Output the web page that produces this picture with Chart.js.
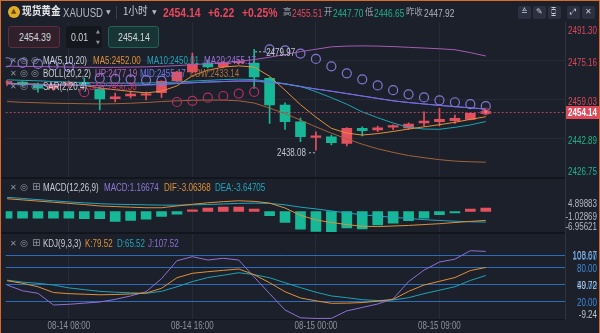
<!DOCTYPE html>
<html><head><meta charset="utf-8">
<script src="https://cdn.jsdelivr.net/npm/chart.js@4/dist/chart.umd.min.js"></script>
<style>
html,body{margin:0;padding:0;background:#1c202b;width:600px;height:333px;overflow:hidden;}
#wrap{position:relative;width:600px;height:333px;}
#frame{position:absolute;left:0;top:0;width:600px;height:333px;box-sizing:border-box;border-top:1px solid #d86a2c;border-left:1px solid #d86a2c;border-right:1px solid #d86a2c;pointer-events:none;}
canvas{position:absolute;left:0;top:0;}
.t{position:absolute;white-space:nowrap;font-family:"Liberation Sans",Arial,sans-serif;line-height:1;transform:scaleX(0.8);transform-origin:0 50%;}
.cn{font-family:"Noto Sans CJK SC",sans-serif;transform:scaleX(0.88);}
.ic{position:absolute;font-family:"DejaVu Sans",sans-serif;color:#8d93a0;font-size:8px;line-height:1;white-space:nowrap;}
.box{position:absolute;box-sizing:border-box;border-radius:3px;}
.btn{position:absolute;top:6px;width:13px;height:13px;background:#2b3140;border-radius:2px;}
</style></head>
<body><div id="wrap">
<canvas id="c" width="600" height="333"></canvas>

<!-- header -->
<div class="box" style="left:8px;top:6px;width:12px;height:12px;border-radius:6px;background:#e2ad2a;"></div>
<div class="ic" style="left:11px;top:8px;font-size:7px;color:#6a4a08;">▲</div>
<div class="t cn" style="left:22px;top:5px;font-size:11px;color:#e6e7ea;font-weight:bold;">现货黄金</div>
<div class="t" style="left:63px;top:7px;font-size:12px;color:#b5b9c3;">XAUUSD</div>
<div class="ic" style="left:106px;top:9px;font-size:6px;color:#b5b9c3;">▼</div>
<div class="box" style="left:116px;top:6px;width:1px;height:13px;background:#3a3f4c;border-radius:0;"></div>
<div class="t cn" style="left:123px;top:5px;font-size:11px;color:#c8ccd4;">1小时</div>
<div class="ic" style="left:152px;top:9px;font-size:6px;color:#b5b9c3;">▼</div>
<div class="t" style="left:163px;top:6px;font-size:13px;color:#e8485a;font-weight:bold;">2454.14</div>
<div class="t" style="left:208px;top:6px;font-size:13px;color:#e8485a;font-weight:bold;">+6.22</div>
<div class="t" style="left:242px;top:6px;font-size:13px;color:#e8485a;font-weight:bold;">+0.25%</div>
<div class="t cn" style="left:283px;top:7px;font-size:9.5px;color:#9aa0aa;">高</div>
<div class="t" style="left:292px;top:7.5px;font-size:10.5px;color:#e8485a;">2455.51</div>
<div class="t cn" style="left:324px;top:7px;font-size:9.5px;color:#9aa0aa;">开</div>
<div class="t" style="left:333px;top:7.5px;font-size:10.5px;color:#1fb38a;">2447.70</div>
<div class="t cn" style="left:365px;top:7px;font-size:9.5px;color:#9aa0aa;">低</div>
<div class="t" style="left:374px;top:7.5px;font-size:10.5px;color:#1fb38a;">2446.65</div>
<div class="t cn" style="left:406px;top:7px;font-size:9.5px;color:#9aa0aa;">昨收</div>
<div class="t" style="left:424px;top:7.5px;font-size:10.5px;color:#b0b4bc;">2447.92</div>
<div class="btn" style="left:518px;"></div>
<div class="btn" style="left:533px;"></div>
<div class="btn" style="left:548px;"></div>
<div class="btn" style="left:567px;"></div>
<div class="btn" style="left:582px;"></div>
<div class="ic" style="left:521px;top:8px;color:#c8ccd4;">≙</div>
<div class="ic" style="left:536px;top:8px;color:#c8ccd4;">✎</div>
<div class="ic" style="left:551px;top:8px;color:#c8ccd4;">⧮</div>
<div class="ic" style="left:570px;top:8px;color:#c8ccd4;">⤢</div>
<div class="ic" style="left:585px;top:8px;color:#c8ccd4;">✕</div>

<!-- price boxes -->
<div class="box" style="left:8px;top:26px;width:52px;height:22px;background:#2f202b;border:1px solid #5c2d3c;"></div>
<div class="t" style="left:19px;top:32px;font-size:11px;color:#d6d7db;">2454.39</div>
<div class="box" style="left:66px;top:26px;width:36px;height:22px;background:#14171e;"></div>
<div class="t" style="left:71px;top:32px;font-size:11px;color:#d6d7db;">0.01</div>
<div class="ic" style="left:96px;top:29px;font-size:5px;">▲</div>
<div class="ic" style="left:96px;top:40px;font-size:5px;">▼</div>
<div class="box" style="left:108px;top:26px;width:51px;height:22px;background:#173535;border:1px solid #25605a;"></div>
<div class="t" style="left:118px;top:32px;font-size:11px;color:#d6d7db;">2454.14</div>

<!-- main legend -->
<div class="ic" style="left:10px;top:57px;">✕</div><div class="ic" style="left:20px;top:56px;font-size:9px;">◎</div><div class="ic" style="left:31px;top:56px;font-size:9px;">◎</div>
<div class="t" style="left:43px;top:56px;font-size:10px;color:#c9ccd3;">MA(5,10,20)</div>
<div class="t" style="left:93px;top:56px;font-size:10px;color:#e0913a;">MA5:2452.00</div>
<div class="t" style="left:147px;top:56px;font-size:10px;color:#22a6bb;">MA10:2450.01</div>
<div class="t" style="left:204px;top:56px;font-size:10px;color:#9a6fd8;">MA20:2455.17</div>
<div class="ic" style="left:10px;top:70px;">✕</div><div class="ic" style="left:20px;top:69px;font-size:9px;">◎</div><div class="ic" style="left:31px;top:69px;font-size:9px;">◎</div>
<div class="t" style="left:43px;top:69px;font-size:10px;color:#c9ccd3;">BOLL(20,2,2)</div>
<div class="t" style="left:95px;top:69px;font-size:10px;color:#b763be;">UP:2477.19</div>
<div class="t" style="left:140px;top:69px;font-size:10px;color:#6f78ee;">MID:2455.17</div>
<div class="t" style="left:190px;top:69px;font-size:10px;color:#b0703c;">LOW:2433.14</div>
<div class="ic" style="left:10px;top:83px;">✕</div><div class="ic" style="left:20px;top:82px;font-size:9px;">◎</div><div class="ic" style="left:31px;top:82px;font-size:9px;">◎</div>
<div class="t" style="left:43px;top:82px;font-size:10px;color:#c9ccd3;">SAR(2,20,4)</div>
<div class="t" style="left:89px;top:82px;font-size:10px;color:#c8396e;">SAR:2456.38</div>

<!-- macd legend -->
<div class="ic" style="left:10px;top:184px;">✕</div><div class="ic" style="left:20px;top:183px;font-size:9px;">◎</div><div class="ic" style="left:32px;top:182px;font-size:10px;">⊞</div>
<div class="t" style="left:43px;top:183px;font-size:10px;color:#c9ccd3;">MACD(12,26,9)</div>
<div class="t" style="left:104px;top:183px;font-size:10px;color:#8f78d8;">MACD:1.16674</div>
<div class="t" style="left:164px;top:183px;font-size:10px;color:#e0913a;">DIF:-3.06368</div>
<div class="t" style="left:215px;top:183px;font-size:10px;color:#22a6bb;">DEA:-3.64705</div>

<!-- kdj legend -->
<div class="ic" style="left:10px;top:240px;">✕</div><div class="ic" style="left:20px;top:239px;font-size:9px;">◎</div><div class="ic" style="left:32px;top:238px;font-size:10px;">⊞</div>
<div class="t" style="left:43px;top:239px;font-size:10px;color:#c9ccd3;">KDJ(9,3,3)</div>
<div class="t" style="left:85px;top:239px;font-size:10px;color:#e0913a;">K:79.52</div>
<div class="t" style="left:117px;top:239px;font-size:10px;color:#22a6bb;">D:65.52</div>
<div class="t" style="left:148px;top:239px;font-size:10px;color:#8f6fd6;">J:107.52</div>

<div id="frame"></div>
</div>
<script>
// ---------- data ----------
const tickIdx = [4, 12, 20, 28];
const tickLabels = ['08-14 08:00', '08-14 16:00', '08-15 00:00', '08-15 09:00'];

const opens  = [2466.0,2466.4,2465.2,2463.8,2464.9,2466.0,2463.50,2459.47,2460.59,2460.90,2461.96,2466.94,2470.55,2474.29,2472.75,2474.40,2474.29,2467.94,2456.86,2449.93,2443.46,2443.71,2440.97,2447.19,2446.49,2447.70,2447.40,2449.39,2449.93,2450.35,2450.93,2453.40];
const highs  = [2467.0,2466.9,2466.0,2465.5,2466.8,2468.0,2464.33,2461.84,2462.67,2462.25,2466.90,2470.80,2478.44,2475.53,2475.00,2475.30,2479.97,2468.30,2457.81,2451.47,2445.78,2444.41,2447.50,2447.86,2448.15,2448.60,2449.52,2454.08,2455.51,2452.71,2453.70,2454.60];
const lows   = [2465.0,2464.6,2462.2,2463.0,2464.2,2464.8,2454.79,2458.11,2459.76,2458.94,2460.05,2466.53,2470.20,2472.20,2472.30,2473.80,2463.79,2449.27,2446.78,2441.63,2438.08,2440.26,2439.85,2444.00,2445.78,2446.65,2446.70,2448.15,2448.15,2449.27,2450.64,2453.00];
const closes = [2466.4,2465.2,2463.8,2464.9,2466.0,2465.5,2459.35,2460.30,2461.42,2461.10,2466.70,2470.55,2473.87,2472.63,2474.41,2474.60,2468.48,2456.86,2449.93,2443.71,2444.00,2441.22,2447.19,2446.20,2447.44,2448.10,2448.98,2450.22,2450.93,2451.34,2453.42,2454.14];

const ma5  = [2465.8,2465.7,2465.5,2465.3,2465.2,2465.0,2463.9,2463.2,2462.5,2461.9,2462.6,2464.8,2469.0,2471.3,2472.6,2473.1,2472.6,2468.8,2463.0,2457.0,2451.8,2447.2,2445.2,2444.4,2445.0,2445.9,2446.9,2447.8,2448.7,2449.7,2450.9,2452.00];
const ma10 = [2467.3,2467.1,2466.9,2466.6,2466.4,2466.2,2466.0,2465.9,2465.9,2466.0,2466.1,2466.4,2466.8,2467.1,2467.4,2467.6,2467.4,2466.6,2465.7,2464.6,2462.4,2459.9,2457.2,2454.0,2451.6,2449.4,2447.6,2446.9,2446.8,2447.6,2448.6,2450.01];
const ma20 = [2465.7,2465.5,2465.3,2465.2,2465.1,2465.0,2464.9,2464.9,2465.0,2465.2,2465.4,2465.8,2466.1,2466.4,2466.6,2466.8,2466.8,2466.3,2465.6,2464.5,2463.5,2462.6,2461.6,2460.6,2459.6,2458.6,2457.9,2457.3,2456.7,2456.2,2455.7,2455.17];
const bollUp  = [2473.0,2472.9,2472.8,2472.7,2472.6,2472.5,2472.5,2472.5,2472.6,2472.7,2472.9,2473.2,2473.6,2474.0,2474.5,2475.0,2475.7,2476.7,2477.8,2479.0,2480.0,2481.0,2481.3,2481.4,2481.3,2481.1,2480.8,2480.5,2480.2,2479.8,2478.6,2477.19];
const bollMid = [2465.7,2465.5,2465.3,2465.2,2465.1,2465.0,2464.9,2464.9,2465.0,2465.2,2465.4,2465.8,2466.1,2466.4,2466.6,2466.8,2466.8,2466.3,2465.6,2464.5,2463.5,2462.6,2461.6,2460.6,2459.6,2458.6,2457.9,2457.3,2456.7,2456.2,2455.7,2455.17];
const bollLow = [2458.3,2458.0,2457.8,2457.6,2457.5,2457.4,2457.3,2457.4,2457.6,2457.9,2458.3,2458.6,2458.8,2458.9,2458.9,2458.6,2457.7,2455.6,2453.3,2450.6,2447.8,2445.2,2442.8,2440.6,2438.7,2437.2,2435.9,2435.0,2434.2,2433.6,2433.3,2433.14];
const sar = [2474.6,2474.3,2473.9,2473.3,2472.6,2462.2,2468.0,2467.7,2467.5,2467.2,2467.0,2458.11,2458.6,2459.9,2460.6,2461.6,2462.3,2479.97,2479.5,2478.2,2476.0,2472.9,2470.0,2467.5,2465.0,2463.0,2461.3,2460.0,2458.8,2458.0,2457.2,2456.38];

const macdHist = [-2.3,-2.3,-2.3,-2.3,-2.3,-2.5,-2.5,-3.4,-3.1,-2.6,-1.7,-0.9,0.6,1.2,1.5,1.5,0.8,-1.4,-3.8,-6.1,-6.9,-6.95621,-5.7,-6.0,-4.6,-4.0,-3.2,-2.3,-1.1,-0.45,0.8,1.16674];
const dif = [4.4,4.0,3.6,3.2,2.8,2.4,1.9,1.7,1.5,1.3,1.3,1.9,2.5,3.0,3.4,3.7,3.5,2.9,1.2,-1.3,-2.9,-3.8,-4.5,-5.1,-5.2,-5.0,-4.8,-4.5,-4.2,-3.8,-3.4,-3.06368];
const dea = [4.89883,4.5,4.1,3.7,3.3,3.0,2.7,2.5,2.4,2.3,2.2,2.2,2.3,2.4,2.6,2.8,2.9,2.8,2.3,1.5,0.9,0.2,-0.5,-1.1,-1.6,-2.0,-2.4,-2.8,-3.1,-3.35,-3.55,-3.64705];

const kLine = [56.5,52,46,36,34,33,32,32.5,33.5,35,43.3,61.7,69.4,72.2,74.5,76.9,67,53,37.4,26.5,21.5,17.2,17.5,18.5,21,24,38,49,55.5,62,74.2,79.52];
const dLine = [57.5,54,52,49,44,41,38,36.5,35.5,34.6,38,46,55,62,66,70.4,67,61.7,53,44.5,36.5,30,27,23.5,22,23,27,34,40,46,57,65.52];
const jLine = [49,39,34.6,14.3,15.5,17.5,19.5,24,30,37.4,60,91.3,98.3,92.5,95.5,92.5,63,34,5.6,-8,-9.24,-9,4,10,16,25,55,75,89,94,108.67,107.52];

const mainTicks = [2491.30, 2475.16, 2459.03, 2442.89, 2426.75];
const macdTicks = [4.89883, -1.02869, -6.95621];
const kdjTicks  = [108.67, 100, 80, 50, 49.72, 20, -9.24];
const kdjRefs   = [100, 80, 50, 20];

// ---------- styling ----------
const RED = '#e5505f', GREEN = '#17b897';
const FONT = '"Liberation Sans",Arial,sans-serif';
const SX = 0.8;
const N = closes.length;
const idx = closes.map((_, i) => i);
const isUp = idx.map(i => closes[i] >= opens[i]);
const candleCol = idx.map(i => isUp[i] ? RED : GREEN);
const pts = arr => arr.map((v, i) => ({x: i, y: v}));
const lastClose = closes[N - 1];

// first value = range top (label hangs below it), last value = range bottom (label sits above it)
function tickBuilder(values) {
  return function (scale) {
    scale.ticks = values.map((v, k) => ({value: v, role: k === 0 ? 'top' : (k === values.length - 1 ? 'bottom' : 'mid')}));
  };
}
const lineDs = (data, color, axis, order) => ({
  type: 'line', data: pts(data), borderColor: color, borderWidth: 1, pointRadius: 0,
  tension: 0, yAxisID: axis, order: order, fill: false
});
function sText(ctx, txt, x, y, align) {
  ctx.save(); ctx.translate(x, y); ctx.scale(SX, 1); ctx.textAlign = align; ctx.fillText(txt, 0, 0); ctx.restore();
}

const overlay = {
  id: 'overlay',
  afterDatasetsDraw(chart) {
    const ctx = chart.ctx, ys = chart.scales.yMain, xs = chart.scales.x, ca = chart.chartArea;
    ctx.save();
    // panel separators
    ctx.fillStyle = '#12151c';
    ctx.fillRect(0, Math.round(ys.bottom) - 1, 565, 2);
    ctx.fillRect(0, Math.round(chart.scales.yMacd.bottom) - 1, 565, 2);
    ctx.fillRect(0, Math.round(chart.scales.yKdj.bottom), 565, 1);
    // current price line
    const py = ys.getPixelForValue(lastClose);
    ctx.strokeStyle = '#a8455a';
    ctx.lineWidth = 1;
    ctx.setLineDash([2, 2]);
    ctx.beginPath(); ctx.moveTo(ca.left, Math.round(py) + 0.5); ctx.lineTo(ys.left, Math.round(py) + 0.5); ctx.stroke();
    // high / low markers
    let hi = 0, lo = 0;
    idx.forEach(i => { if (highs[i] > highs[hi]) hi = i; if (lows[i] < lows[lo]) lo = i; });
    ctx.font = '10px ' + FONT;
    ctx.fillStyle = '#c3c7cf';
    ctx.strokeStyle = '#b9bdc6';
    ctx.textBaseline = 'middle';
    const hx = xs.getPixelForValue(hi), hy = ys.getPixelForValue(highs[hi]);
    ctx.beginPath(); ctx.moveTo(hx + 1, hy + 2.5); ctx.lineTo(hx + 11, hy + 2.5); ctx.stroke();
    sText(ctx, highs[hi].toFixed(2), hx + 12, hy + 3.5, 'left');
    const lx = xs.getPixelForValue(lo), ly = ys.getPixelForValue(lows[lo]);
    ctx.beginPath(); ctx.moveTo(lx - 1, ly + 2.5); ctx.lineTo(lx - 9, ly + 2.5); ctx.stroke();
    sText(ctx, lows[lo].toFixed(2), lx - 10, ly + 3, 'right');
    ctx.setLineDash([]);
    // last price dot
    const lxp = xs.getPixelForValue(N - 1);
    ctx.fillStyle = 'rgba(240,90,110,0.35)';
    ctx.beginPath(); ctx.arc(lxp, py, 4, 0, Math.PI * 2); ctx.fill();
    ctx.fillStyle = '#f07080';
    ctx.beginPath(); ctx.arc(lxp, py, 1.6, 0, Math.PI * 2); ctx.fill();

    // axis labels (drawn at the library's tick positions)
    ctx.font = '10px ' + FONT;
    const specs = [
      {s: ys, off: {top: 9.5, mid: 2.5, bottom: -5.5}, fmt: v => v.toFixed(2), col: v => v >= lastClose ? '#d9485a' : '#1fb38a'},
      {s: chart.scales.yMacd, off: {top: 7, mid: 3, bottom: -4}, fmt: v => v.toFixed(5), col: () => '#b4b8c2'},
      {s: chart.scales.yKdj, off: {top: 6, mid: 2, bottom: -3.5}, fmt: v => v.toFixed(2), col: v => kdjRefs.includes(v) ? '#3d8ad8' : '#c0c4cc'}
    ];
    specs.forEach(sp => sp.s.ticks.forEach(t => {
      ctx.fillStyle = sp.col(t.value);
      sText(ctx, sp.fmt(t.value), 597, sp.s.getPixelForValue(t.value) + sp.off[t.role], 'right');
    }));
    ctx.fillStyle = '#8c919c';
    xs.ticks.forEach(t => {
      const k = tickIdx.indexOf(t.value);
      if (k >= 0) sText(ctx, tickLabels[k], xs.getPixelForValue(t.value), 326.5, 'center');
    });
    // last price tag
    ctx.fillStyle = '#e0485a';
    ctx.fillRect(ys.left + 1, Math.round(py) - 6, 600 - ys.left - 1, 13);
    ctx.fillStyle = '#ffffff';
    ctx.font = 'bold 10px ' + FONT;
    sText(ctx, lastClose.toFixed(2), 597, Math.round(py) + 1, 'right');
    ctx.restore();
  }
};

const yCommon = {
  type: 'linear', position: 'right', stack: 'panes',
  border: {display: true, color: '#2d3240'},
  afterFit: s => { s.width = 33; }
};

new Chart(document.getElementById('c'), {
  type: 'bar',
  data: {
    datasets: [
      {type: 'bar', data: idx.map(i => ({x: i, y: [lows[i], highs[i]]})), backgroundColor: candleCol,
        barThickness: 1, grouped: false, yAxisID: 'yMain', order: 9},
      {type: 'bar', data: idx.map(i => ({x: i, y: [opens[i], closes[i]]})), backgroundColor: candleCol,
        barThickness: 10, minBarLength: 1.5, grouped: false, yAxisID: 'yMain', order: 8},
      lineDs(bollLow, '#a4623a', 'yMain', 5),
      lineDs(bollUp, '#a85ab4', 'yMain', 5),
      lineDs(ma5, '#e0913a', 'yMain', 4),
      lineDs(ma10, '#1fa3b5', 'yMain', 4),
      lineDs(ma20, '#9467d6', 'yMain', 4),
      lineDs(bollMid, '#6a70e6', 'yMain', 3),
      {type: 'line', data: pts(sar), showLine: false, yAxisID: 'yMain', order: 2,
        pointRadius: 4.5, pointBorderWidth: 1.2, pointBackgroundColor: 'rgba(0,0,0,0)',
        pointBorderColor: idx.map(i => sar[i] > closes[i] ? '#8676d6' : '#b82c66')},
      {type: 'bar', data: pts(macdHist), backgroundColor: macdHist.map(v => v >= 0 ? RED : GREEN),
        barThickness: 10, grouped: false, yAxisID: 'yMacd', order: 8},
      lineDs(dif, '#d8923e', 'yMacd', 3),
      lineDs(dea, '#23a4c2', 'yMacd', 3),
      lineDs(kLine, '#e0913a', 'yKdj', 3),
      lineDs(dLine, '#1fa3b5', 'yKdj', 3),
      lineDs(jLine, '#8f6fd6', 'yKdj', 3)
    ]
  },
  options: {
    responsive: false, animation: false, devicePixelRatio: 1,
    layout: {padding: {top: 22, right: 2, left: 0, bottom: 0}},
    plugins: {legend: {display: false}, tooltip: {enabled: false}},
    scales: {
      x: {
        type: 'linear', min: -0.09, max: 36.13, offset: false,
        grid: {color: '#262b37', drawTicks: false, offset: false},
        border: {display: false},
        ticks: {display: false},
        afterBuildTicks: s => { s.ticks = tickIdx.map(v => ({value: v})); },
        afterFit: s => { s.height = 14; }
      },
      yMain: Object.assign({}, yCommon, {
        stackWeight: 155.6, min: 2426.75, max: 2491.30,
        afterBuildTicks: tickBuilder(mainTicks),
        grid: {drawTicks: false, color: c => (c.tick && c.tick.role === 'mid') ? '#252a36' : 'rgba(0,0,0,0)'},
        ticks: {display: false}
      }),
      yMacd: Object.assign({}, yCommon, {
        stackWeight: 55.4, min: -7.41, max: 11.69,
        afterBuildTicks: tickBuilder(macdTicks),
        grid: {drawTicks: false, color: 'rgba(0,0,0,0)'},
        ticks: {display: false}
      }),
      yKdj: Object.assign({}, yCommon, {
        stackWeight: 86, min: -10.09, max: 139.5,
        afterBuildTicks: tickBuilder(kdjTicks),
        grid: {drawTicks: false, lineWidth: 1,
          color: c => (c.tick && kdjRefs.includes(c.tick.value)) ? '#2b6cbc' : 'rgba(0,0,0,0)'},
        ticks: {display: false}
      })
    }
  },
  plugins: [overlay]
});
</script>
</body></html>
